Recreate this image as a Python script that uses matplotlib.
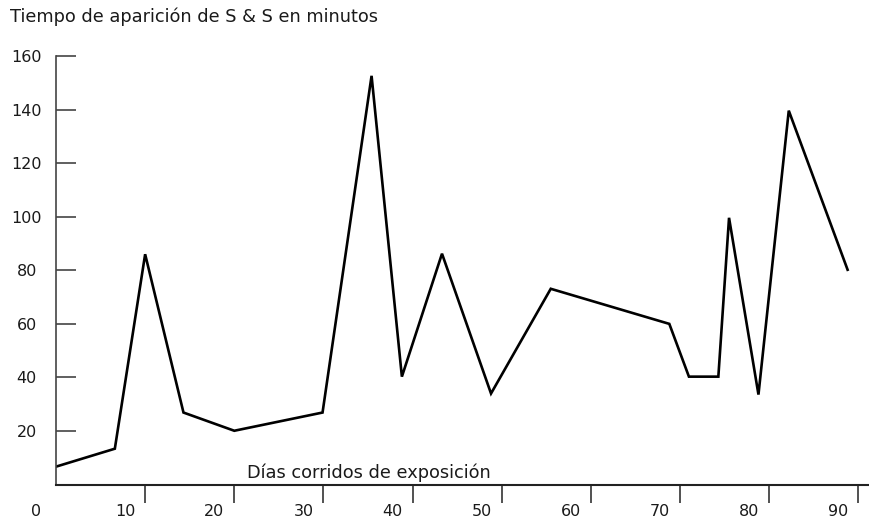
import matplotlib
matplotlib.use("Agg")
import matplotlib.pyplot as plt
from matplotlib.transforms import ScaledTranslation

plt.rcParams['font.family'] = ['DejaVu Sans']

# datos
dias = [0, 6.6, 10, 14.3, 20, 29.9, 35.4, 38.8, 43.3, 48.8, 55.5,
        68.8, 71, 74.3, 75.5, 78.8, 82.2, 88.8]
minutos = [6.7, 13.4, 86, 26.9, 20.1, 26.9, 152.6, 40.3, 86.2, 34, 73.1,
           60, 40.3, 40.3, 99.6, 33.6, 139.6, 80.2]

x_ticks = [0, 10, 20, 30, 40, 50, 60, 70, 80, 90]
y_ticks = [20, 40, 60, 80, 100, 120, 140, 160]

titulo = 'Tiempo de aparición de S & S en minutos'
etiqueta_x = 'Días corridos de exposición'

fig = plt.figure(figsize=(8.69, 5.19), dpi=100)
ax = fig.add_axes([56 / 869, 1 - 484.6 / 519, 1 - 56 / 869, (484.6 - 56) / 519])

ax.plot(dias, minutos, color='black', lw=1.9, solid_joinstyle='miter')

ax.set_xlim(0, 91.2)
ax.set_ylim(0, 160)

for side in ['top', 'right']:
    ax.spines[side].set_visible(False)
ax.spines['left'].set_color('#444444')
ax.spines['left'].set_linewidth(1.2)
ax.spines['bottom'].set_color('#222222')
ax.spines['bottom'].set_linewidth(1.5)

ax.set_xticks(x_ticks)
ax.set_xticklabels([str(v) for v in x_ticks])
ax.set_yticks(y_ticks)
ax.set_yticklabels([str(v) for v in y_ticks])

ax.tick_params(axis='x', direction='out', length=13, width=1.2, color='#333333',
               pad=1, labelsize=11.5, labelcolor='#1a1a1a')
ax.tick_params(axis='y', direction='in', length=14.5, width=1.2, color='#444444',
               pad=21, labelsize=11.5, labelcolor='#1a1a1a')
ax.xaxis.get_major_ticks()[0].tick1line.set_visible(False)

# etiquetas x corridas a la izquierda de la marca
shift = ScaledTranslation(-0.2, 0, fig.dpi_scale_trans)
for lab in ax.get_xticklabels():
    lab.set_transform(lab.get_transform() + shift)
for lab in ax.get_yticklabels():
    lab.set_horizontalalignment('center')

ax.text(0.235, 0.027, etiqueta_x, transform=ax.transAxes, ha='left', va='center',
        fontsize=12.8, color='#1a1a1a')
fig.text(10 / 869, 1 - 17 / 519, titulo, ha='left', va='center',
         fontsize=12.8, color='#1a1a1a')

fig.savefig('out.png', dpi=100)
